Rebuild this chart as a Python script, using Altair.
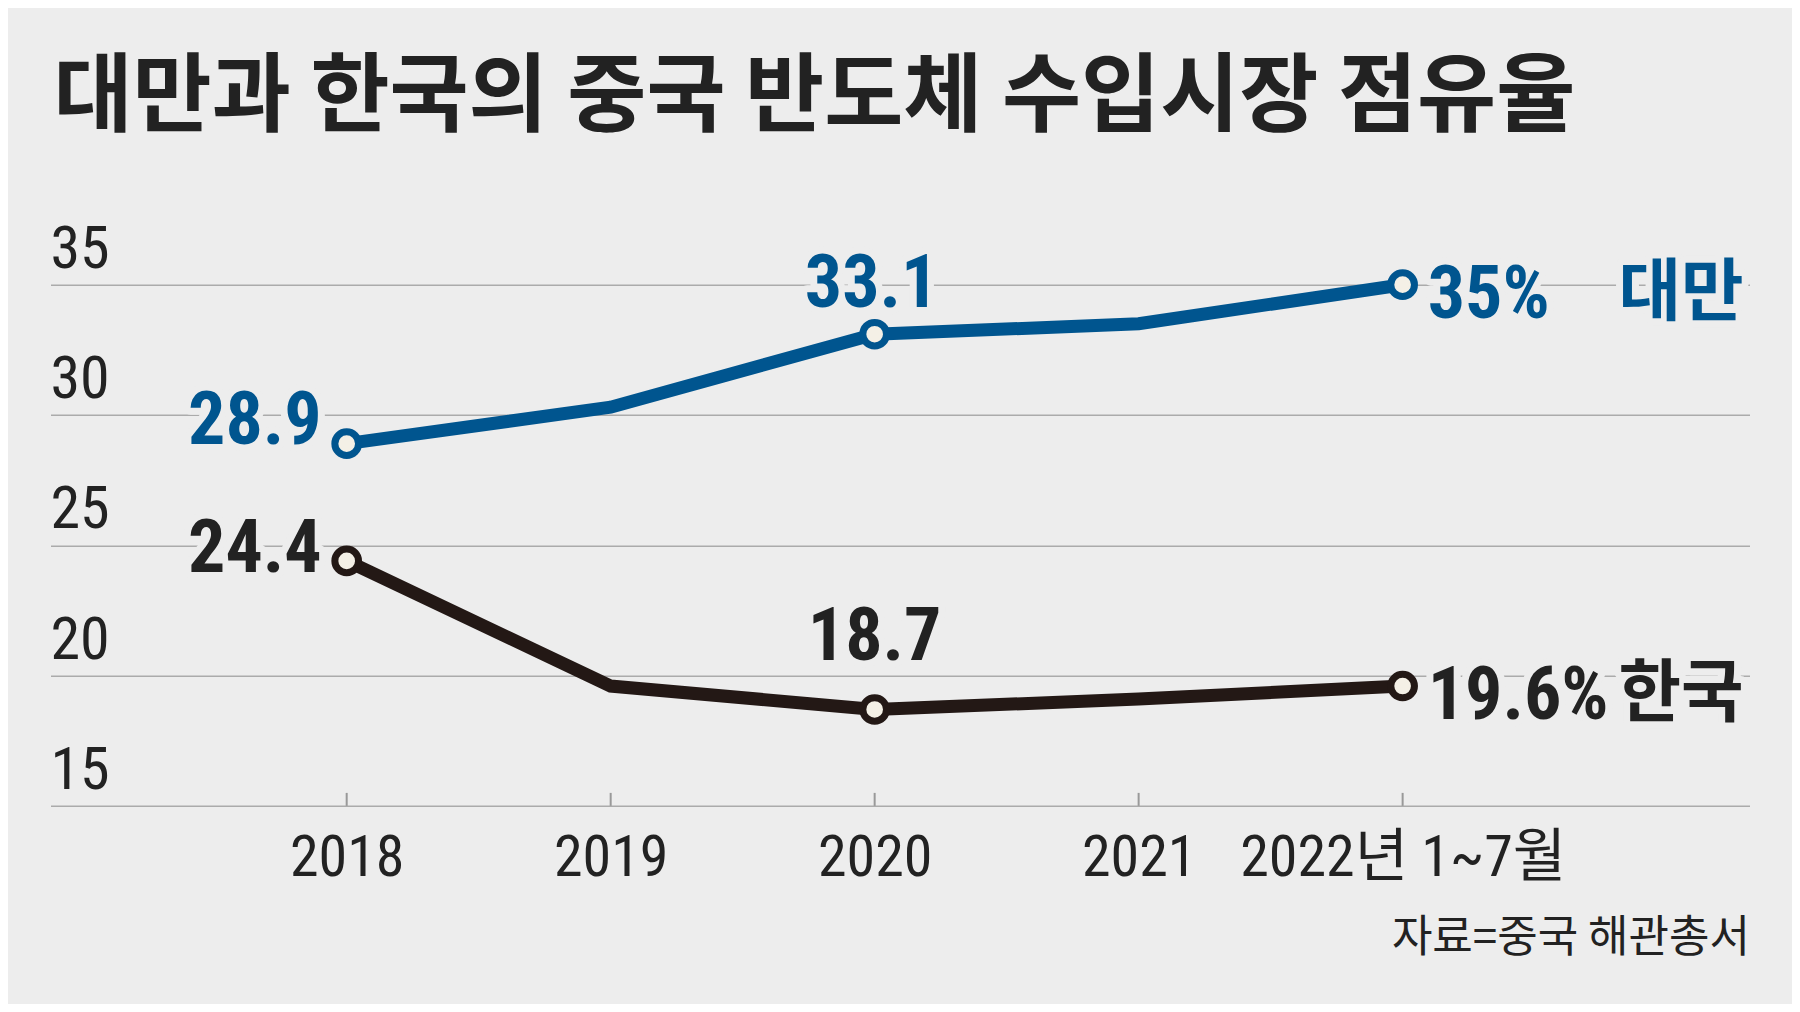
import altair as alt
import pandas as pd

# ---------------- data ----------------
years = [2018, 2019, 2020, 2021, 2022]
year_labels = ["2018", "2019", "2020", "2021", "2022년 1~7월"]
series_names = ["대만", "한국"]
taiwan = [28.9, 30.3, 33.1, 33.5, 35.0]
korea = [24.4, 19.6, 18.7, 19.1, 19.6]
marked_years = [2018, 2020, 2022]
y_ticks = [15, 20, 25, 30, 35]
title_text = "대만과 한국의 중국 반도체 수입시장 점유율"
source_text = "자료=중국 해관총서"

# ---------------- style ----------------
BG = "#ededed"
BLUE = "#00558f"
DARK = "#231815"
TEXT = "#222222"
CREAM = "#f4f0e6"
GRID = "#ababab"
NUM_FONT = "Liberation Sans Narrow, Arial Narrow, Roboto Condensed, Noto Sans CJK KR, sans-serif"
KR_FONT = "Noto Sans CJK KR, sans-serif"

W = 1699
H = 521.2

rows = []
for name, vals in zip(series_names, [taiwan, korea]):
    for yr, v in zip(years, vals):
        rows.append({"series": name, "year": yr, "value": v})
df = pd.DataFrame(rows)
ticks_df = pd.DataFrame({"value": y_ticks})
years_df = pd.DataFrame({"year": years})

label_expr = "datum.label"
for yr, lab in reversed(list(zip(years, year_labels))):
    label_expr = f"datum.value == {yr} ? '{lab}' : ({label_expr})"

X = alt.X(
    "year:Q",
    scale=alt.Scale(domain=[2016.878, 2023.314], nice=False, zero=False),
    axis=alt.Axis(
        values=years, labelExpr=label_expr, grid=False, domain=False,
        ticks=False, tickSize=0, labelPadding=70, labelBaseline="alphabetic",
        labelFont=NUM_FONT, labelFontSize=58, labelColor=TEXT, labelLimit=0,
        labelFlush=False, labelOverlap=False,
        title=source_text, titleAnchor="end", titleAlign="right",
        titleBaseline="alphabetic", titleY=146, titleFont=KR_FONT,
        titleFontSize=44, titleFontWeight="normal", titleColor=TEXT,
    ),
)
Y = alt.Y(
    "value:Q",
    title=None,
    scale=alt.Scale(domain=[15, 35], nice=False, zero=False),
    axis=alt.Axis(values=y_ticks, grid=True, gridColor=GRID, gridWidth=1.5,
                  domain=False, ticks=False, tickSize=0, labels=False),
)
color_scale = alt.Scale(domain=series_names, range=[BLUE, DARK])
text_colors = {series_names[0]: BLUE, series_names[1]: TEXT}

base = alt.Chart(df)

ytick_labels = alt.Chart(ticks_df).mark_text(
    align="left", baseline="alphabetic", dy=-17, font=NUM_FONT, fontSize=60, color=TEXT
).encode(x=alt.value(0), y=Y, text=alt.Text("value:Q"))

upticks = alt.Chart(years_df).mark_rule(color="#999999", strokeWidth=2).encode(
    x=X, y=alt.value(H), y2=alt.value(H - 13)
)


def pick(series, yr):
    return base.transform_filter(f"datum.series == '{series}' && datum.year == {yr}")


def value_label(series, yr, calc, halo, **props):
    ch = pick(series, yr).transform_calculate(label=calc)
    if halo:
        mk = ch.mark_text(fill=BG, stroke=BG, strokeWidth=14, strokeJoin="round", **props)
    else:
        mk = ch.mark_text(fill=text_colors[series], **props)
    return mk.encode(x=X, y=Y, text="label:N")


y0, y1, y2 = marked_years
num_props = dict(font=NUM_FONT, fontSize=74, fontWeight="bold", baseline="alphabetic")
end_props = dict(font=NUM_FONT, fontSize=74, fontWeight="bold", baseline="alphabetic")
specs = []
specs.append((series_names[0], y0, "datum.value + ''", dict(align="right", dx=-25, dy=0, **num_props)))
specs.append((series_names[1], y0, "datum.value + ''", dict(align="right", dx=-25, dy=11, **num_props)))
specs.append((series_names[0], y1, "datum.value + ''", dict(align="center", dx=-3, dy=-27, **num_props)))
specs.append((series_names[1], y1, "datum.value + ''", dict(align="center", dx=0, dy=-49, **num_props)))
for s in series_names:
    specs.append((s, y2, "datum.value + '%'", dict(align="left", dx=25, dy=33, **end_props)))

name_props = dict(font=KR_FONT, fontSize=68, fontWeight="bold", baseline="alphabetic", align="right", dx=341, dy=30)

halos = [value_label(s, yr, c, True, **p) for s, yr, c, p in specs]
for s in series_names:
    halos.append(value_label(s, y2, "'\u00a0\u00a0\u00a0\u00a0\u00a0' + datum.series", True, **name_props))

labels = [value_label(s, yr, c, False, **p) for s, yr, c, p in specs]
for s in series_names:
    labels.append(value_label(s, y2, "datum.series", False, **name_props))

lines = base.mark_line(strokeWidth=13).encode(
    x=X, y=Y, color=alt.Color("series:N", scale=color_scale, legend=None)
)
points = base.transform_filter(
    alt.FieldOneOfPredicate(field="year", oneOf=marked_years)
).mark_point(shape="circle", size=560, strokeWidth=7, filled=True, fill=CREAM,
             fillOpacity=1, strokeOpacity=1, opacity=1).encode(
    x=X, y=Y, stroke=alt.Stroke("series:N", scale=color_scale, legend=None)
)

chart = alt.layer(ytick_labels, upticks, *halos, lines, points, *labels).properties(
    width=W,
    height=H,
    background=BG,
    padding={"left": 42.5, "top": 276.7, "right": 42.5, "bottom": 198.1},
    autosize=alt.AutoSizeParams(type="none"),
    title=alt.TitleParams(
        text=title_text, anchor="start", frame="group", orient="top",
        baseline="alphabetic", offset=9, dx=3, font=KR_FONT, fontSize=86,
        fontWeight="bold", color=TEXT,
    ),
).configure_view(stroke=None)

chart.save("out.html", embed_options={"renderer": "svg", "actions": False})
